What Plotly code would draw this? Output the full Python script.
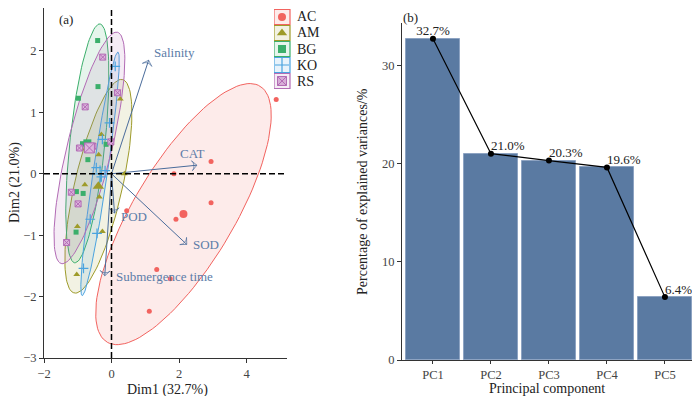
import numpy as np
import plotly.graph_objects as go

# page body has an 8px margin; size the figure to the visible area
OFF = 8
W, H = 700 - OFF, 396 - OFF

# ---------------- data: PCA individuals ----------------
groups = ["AC", "AM", "BG", "KO", "RS"]
AC_x = [4.88, 2.95, 1.85, 0.45, 2.95, 1.91, 1.34, 1.74, 1.12]
AC_y = [1.21, 0.20, 0.00, -0.60, -0.47, -0.74, -1.56, -1.71, -2.24]
AM_x = [0.26, -0.30, -0.38, 0.38, -0.79, -0.36, -1.01, -0.27, -1.03]
AM_y = [1.22, 0.64, 0.31, 0.00, -0.18, -0.38, -0.86, -0.94, -1.64]
BG_x = [-0.41, -0.40, -0.98, -0.16, -0.86, -0.70, -1.04, -0.84, -1.05]
BG_y = [2.17, 1.42, 1.23, 0.48, 0.49, 0.23, -0.29, -0.32, -0.95]
KO_x = [0.11, -0.06, -0.27, -0.19, -0.45, -0.30, -0.63, -0.43, -0.83]
KO_y = [1.75, 0.83, 0.56, 0.05, 0.10, -0.05, -0.74, -0.97, -1.54]
RS_x = [-0.26, -0.78, 0.18, -0.95, -0.02, -1.19, -0.99, -1.33, -0.55]
RS_y = [1.90, 1.09, 1.32, 0.42, 0.52, -0.30, -0.49, -1.12, 0.45]

# variable loadings (arrow tips)
var_names = ["Salinity", "CAT", "SOD", "POD", "Submergence time"]
var_x = [1.10, 2.53, 2.23, 0.09, -0.20]
var_y = [1.85, 0.14, -1.15, -0.64, -1.66]

dim1_label = "Dim1 (32.7%)"
dim2_label = "Dim2 (21.0%)"

# ---------------- data: scree ----------------
pcs = ["PC1", "PC2", "PC3", "PC4", "PC5"]
explained = [32.7, 21.0, 20.3, 19.6, 6.4]
scree_xlabel = "Principal component"
scree_ylabel = "Percentage of explained variances/%"

# ---------------- styles ----------------
FONT = "Liberation Serif"
colors = {"AC": "#F2635F", "AM": "#9E9B2A", "BG": "#3BAF6B", "KO": "#4AA3DF", "RS": "#B26BB5"}
fills = {"AC": "rgba(242,99,95,0.13)", "AM": "rgba(158,155,42,0.13)", "BG": "rgba(59,175,107,0.13)",
         "KO": "rgba(74,163,223,0.13)", "RS": "rgba(178,107,181,0.13)"}
symbols = {"AC": "circle", "AM": "triangle-up", "BG": "square", "KO": "cross-thin-open", "RS": "square-x"}
msize = {"AC": 5, "AM": 6, "BG": 5, "KO": 7, "RS": 6}
ARROW = "#4A6C9B"
ARROW_TXT = "#5C7CA8"
BAR = "#5A7AA2"

data = {"AC": (AC_x, AC_y), "AM": (AM_x, AM_y), "BG": (BG_x, BG_y), "KO": (KO_x, KO_y), "RS": (RS_x, RS_y)}


def norm_ellipse(xs, ys, level=0.8, n=120):
    xs = np.asarray(xs, float)
    ys = np.asarray(ys, float)
    k = len(xs)
    cov = np.cov(xs, ys)
    dfd = k - 1
    q = (dfd / 2.0) * ((1 - level) ** (-2.0 / dfd) - 1)  # F(2, dfd) quantile
    r = np.sqrt(2 * q)
    vals, vecs = np.linalg.eigh(cov)
    t = np.linspace(0, 2 * np.pi, n)
    circ = np.vstack([np.cos(t), np.sin(t)])
    pts = vecs @ (np.sqrt(vals)[:, None] * circ) * r
    return pts[0] + xs.mean(), pts[1] + ys.mean()


def marker_for(g, size):
    if g == "RS":
        return dict(symbol=symbols[g], size=size, color="#DDB6DD", line=dict(color=colors[g], width=1))
    if g == "KO":
        return dict(symbol=symbols[g], size=size, color=colors[g], line=dict(color=colors[g], width=1.2))
    return dict(symbol=symbols[g], size=size, color=colors[g], line=dict(width=0))


fig = go.Figure()

# ellipses
for g in groups:
    ex, ey = norm_ellipse(*data[g])
    fig.add_trace(go.Scatter(x=ex, y=ey, mode="lines", fill="toself", fillcolor=fills[g],
                             line=dict(color=colors[g], width=1), hoverinfo="skip",
                             showlegend=False, xaxis="x", yaxis="y"))

# arrows
for name, vx, vy in zip(var_names, var_x, var_y):
    fig.add_trace(go.Scatter(x=[0, vx], y=[0, vy], mode="lines+markers",
                             line=dict(color=ARROW, width=1),
                             marker=dict(symbol=["circle", "arrow-wide-open"], size=[0, 7],
                                         angleref="previous", color=ARROW,
                                         line=dict(color=ARROW, width=1)),
                             hoverinfo="skip", showlegend=False, xaxis="x", yaxis="y"))

# points and group means
for g in groups:
    xs, ys = data[g]
    m = marker_for(g, msize[g])
    fig.add_trace(go.Scatter(x=xs, y=ys, mode="markers", marker=m, name=g,
                             showlegend=False, xaxis="x", yaxis="y"))
    mm = marker_for(g, round(msize[g] * 1.7))
    fig.add_trace(go.Scatter(x=[float(np.mean(xs))], y=[float(np.mean(ys))], mode="markers",
                             marker=mm, showlegend=False, xaxis="x", yaxis="y"))

# arrow labels
lab_style = {
    "Salinity": dict(xanchor="left", yanchor="middle", xshift=3, yshift=8),
    "CAT": dict(xanchor="center", yanchor="bottom", xshift=-4, yshift=2),
    "SOD": dict(xanchor="left", yanchor="middle", xshift=4, yshift=0),
    "POD": dict(xanchor="left", yanchor="middle", xshift=4, yshift=-3),
    "Submergence time": dict(xanchor="left", yanchor="middle", xshift=9, yshift=-1),
}
for name, vx, vy in zip(var_names, var_x, var_y):
    fig.add_annotation(x=vx, y=vy, xref="x", yref="y", text=name, showarrow=False,
                       font=dict(family=FONT, size=13, color=ARROW_TXT), **lab_style[name])

# dashed zero lines
fig.add_shape(type="line", xref="x", yref="y domain", x0=0, x1=0, y0=0, y1=1,
              line=dict(color="black", width=1.5, dash="6px,3px"))
fig.add_shape(type="line", xref="x domain", yref="y", x0=0, x1=1, y0=0, y1=0,
              line=dict(color="black", width=1.5, dash="6px,3px"))

# custom legend on its own axes
for i, g in enumerate(groups):
    yc = 4.5 - i
    fig.add_shape(type="rect", xref="x3", yref="y3", x0=0, x1=1, y0=yc - 0.47, y1=yc + 0.47,
                  fillcolor=fills[g], line=dict(color=colors[g], width=1.2))
    fig.add_trace(go.Scatter(x=[0.5], y=[yc], mode="markers", marker=marker_for(g, msize[g] + 3),
                             showlegend=False, xaxis="x3", yaxis="y3", hoverinfo="skip"))
    fig.add_annotation(x=1.3, y=yc, xref="x3", yref="y3", text=g, showarrow=False,
                       xanchor="left", yanchor="middle", font=dict(family=FONT, size=14, color="#222"))

# ---------------- scree panel ----------------
fig.add_trace(go.Bar(x=pcs, y=explained, width=0.92, marker=dict(color=BAR, line=dict(color="#8DA3C2", width=1)),
                     showlegend=False, xaxis="x2", yaxis="y2"))
fig.add_trace(go.Scatter(x=pcs, y=explained, mode="lines+markers", line=dict(color="black", width=1.2),
                         marker=dict(color="black", size=6), showlegend=False, xaxis="x2", yaxis="y2"))
fig.add_trace(go.Scatter(x=pcs, y=explained, mode="text", text=[f"{v:.1f}%" for v in explained],
                         textposition=["top center", "top right", "top right", "top right", "top right"],
                         textfont=dict(family=FONT, size=13, color="#222"),
                         showlegend=False, xaxis="x2", yaxis="y2"))


def px(xp):
    return (xp - OFF) / W


def py(yp):
    return 1 - (yp - OFF) / H


axis_common = dict(showline=True, linecolor="#333", linewidth=1, ticks="outside", ticklen=4,
                   tickcolor="#333", showgrid=False, zeroline=False, automargin=False,
                   tickfont=dict(family=FONT, size=12.5, color="#444"))

fig.update_layout(
    width=W, height=H, margin=dict(l=0, r=0, t=0, b=0),
    paper_bgcolor="white", plot_bgcolor="white",
    font=dict(family=FONT),
    bargap=0,
    xaxis=dict(domain=[px(44), px(287)], range=[-2, 5.2], tickvals=[-2, 0, 2, 4], anchor="y", **axis_common),
    yaxis=dict(domain=[py(358), py(8)], range=[-3, 2.7], tickvals=[-3, -2, -1, 0, 1, 2], anchor="x", **axis_common),
    xaxis2=dict(domain=[px(402), px(698)], range=[-0.534, 4.57], type="category", anchor="y2",
                **{**axis_common, "ticklen": 3}),
    yaxis2=dict(domain=[py(360), py(23)], range=[0, 34.3], tickvals=[0, 10, 20, 30], anchor="x2", **axis_common),
    xaxis3=dict(domain=[px(274), px(322)], range=[0, 3], visible=False, anchor="y3", fixedrange=True),
    yaxis3=dict(domain=[py(89), py(9)], range=[0, 5], visible=False, anchor="x3", fixedrange=True),
)

title_font = dict(family=FONT, size=14, color="#222")
fig.add_annotation(x=px(167), y=py(390), xref="paper", yref="paper", text=dim1_label, showarrow=False,
                   xanchor="center", yanchor="middle", font=title_font)
fig.add_annotation(x=px(15), y=py(183), xref="paper", yref="paper", text=dim2_label, showarrow=False,
                   xanchor="center", yanchor="middle", textangle=-90, font=title_font)
fig.add_annotation(x=px(547), y=py(388), xref="paper", yref="paper", text=scree_xlabel, showarrow=False,
                   xanchor="center", yanchor="middle", font=title_font)
fig.add_annotation(x=px(362), y=py(192), xref="paper", yref="paper", text=scree_ylabel, showarrow=False,
                   xanchor="center", yanchor="middle", textangle=-90, font=title_font)

fig.add_annotation(x=px(57), y=py(10), xref="paper", yref="paper", text="(a)", showarrow=False,
                   font=dict(family=FONT, size=13, color="#222"))
fig.add_annotation(x=px(410), y=py(8), xref="paper", yref="paper", text="(b)", showarrow=False,
                   font=dict(family=FONT, size=13, color="#222"))

fig.write_html("out.html")
